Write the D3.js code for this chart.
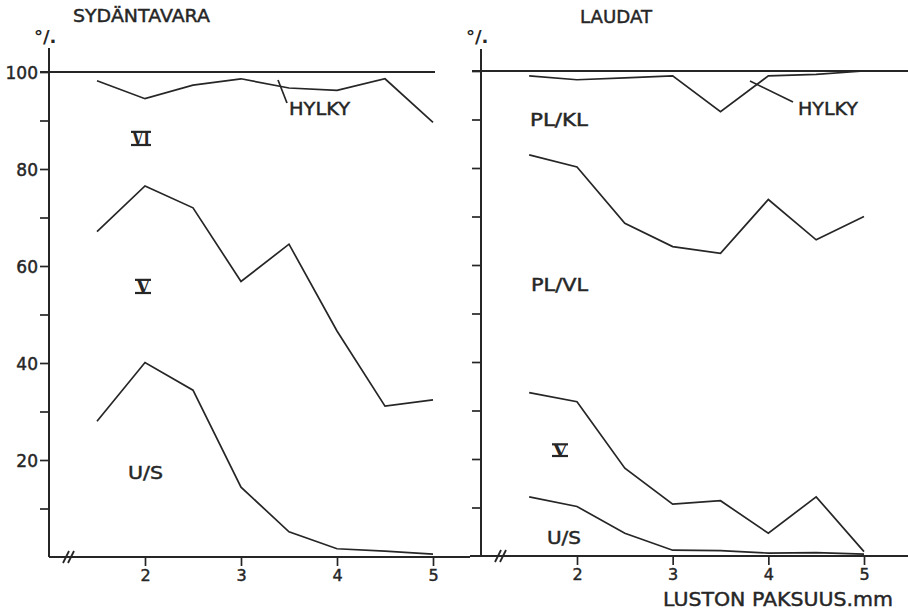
<!DOCTYPE html>
<html>
<head>
<meta charset="utf-8">
<script src="https://cdn.jsdelivr.net/npm/d3@7"></script>
<style>
  body { margin: 0; background: #fff; }
  text { font-family: "DejaVu Sans", sans-serif; fill: #262626; }
</style>
</head>
<body>
<div id="chart"></div>
<script>
// thickness of growth ring (mm) and shares (%)
var thickness = [1.5, 2, 2.5, 3, 3.5, 4, 4.5, 5];
var xTickValues = [2, 3, 4, 5];
var yTickValues = [10, 20, 30, 40, 50, 60, 70, 80, 90, 100];
var yTickLabels = [20, 40, 60, 80, 100];

// SYDÄNTAVARA
var sydHylky = [98.2, 94.5, 97.3, 98.6, 96.7, 96.2, 98.6, 89.6];
var sydV     = [67.1, 76.5, 72.0, 56.8, 64.5, 46.6, 31.1, 32.4];
var sydUS    = [28.0, 40.1, 34.4, 14.4, 5.2, 1.7, 1.2, 0.6];

// LAUDAT
var laudHylky = [99.0, 98.2, 98.6, 99.0, 91.6, 99.0, 99.3, 100];
var laudPLVL  = [82.7, 80.2, 68.6, 63.8, 62.4, 73.5, 65.2, 70.0];
var laudV     = [33.7, 31.8, 18.1, 10.7, 11.4, 4.7, 12.2, 0.9];
var laudUS    = [12.2, 10.2, 4.7, 1.2, 1.1, 0.6, 0.7, 0.4];

var ink = "#262626";
var svg = d3.select("#chart").append("svg")
  .attr("width", 908).attr("height", 613);

// text with a fixed width, slightly thickened like the lettering in the scan
function label(g, s, x, y, size, width) {
  var t = g.append("text").attr("x", x).attr("y", y)
    .style("font-size", size + "px")
    .attr("fill", ink).attr("stroke", ink).attr("stroke-width", 0.45)
    .text(s);
  if (width) t.attr("textLength", width).attr("lengthAdjust", "spacingAndGlyphs");
  return t;
}

function panel(opt) {
  var x = d3.scaleLinear().domain([2, 5]).range(opt.xr);
  var y = d3.scaleLinear().domain([0, 100]).range(opt.yr);
  var g = svg.append("g");

  // y axis (ticks only; the line is drawn by hand so it can run past 100)
  var ya = d3.axisLeft(y).tickValues(yTickValues).tickSize(9)
    .tickFormat(function (d) {
      return opt.labels && yTickLabels.indexOf(d) >= 0 ? d : "";
    });
  var yg = g.append("g").attr("transform", "translate(" + opt.ax + ",0)").call(ya);
  yg.select(".domain").remove();
  yg.selectAll("line").attr("stroke", ink).attr("stroke-width", 1.7);
  yg.selectAll("text").attr("x", -11).attr("dy", "0.38em")
    .style("font-size", "17px").style("font-family", "DejaVu Sans")
    .attr("fill", ink).attr("stroke", ink).attr("stroke-width", 0.45);

  // x axis
  var xa = d3.axisBottom(x).tickValues(xTickValues).tickSize(9).tickPadding(4)
    .tickFormat(d3.format("d"));
  var xg = g.append("g").attr("transform", "translate(0," + y(0) + ")").call(xa);
  xg.select(".domain").remove();
  xg.selectAll("line").attr("stroke", ink).attr("stroke-width", 1.7);
  xg.selectAll("text").style("font-size", "16px").style("font-family", "DejaVu Sans")
    .attr("fill", ink).attr("stroke", ink).attr("stroke-width", 0.45);

  // axis lines
  g.append("line").attr("x1", opt.ax).attr("x2", opt.ax)
    .attr("y1", opt.axTop).attr("y2", y(0))
    .attr("stroke", ink).attr("stroke-width", 2);
  g.append("line").attr("x1", opt.base[0]).attr("x2", opt.base[1])
    .attr("y1", y(0)).attr("y2", y(0))
    .attr("stroke", ink).attr("stroke-width", 2);
  // 100 % line
  g.append("line").attr("x1", opt.top[0]).attr("x2", opt.top[1])
    .attr("y1", y(100)).attr("y2", y(100))
    .attr("stroke", ink).attr("stroke-width", 2);

  // axis break marks
  [0, 5].forEach(function (dx) {
    g.append("line")
      .attr("x1", opt.brk + dx - 3).attr("y1", y(0) + 6)
      .attr("x2", opt.brk + dx + 3).attr("y2", y(0) - 6)
      .attr("stroke", ink).attr("stroke-width", 1.8);
  });

  // series lines
  var line = d3.line()
    .x(function (d, i) { return x(thickness[i]); })
    .y(function (d) { return y(d); });
  opt.series.forEach(function (s) {
    g.append("path").datum(s)
      .attr("d", line)
      .attr("fill", "none")
      .attr("stroke", ink)
      .attr("stroke-width", 1.7)
      .attr("stroke-linejoin", "miter");
  });

  // title and unit
  label(g, opt.title[0], opt.title[1], opt.title[2], 18, opt.title[3]);
  g.append("text").attr("x", opt.ax - 15).attr("y", 43)
    .style("font-size", "18px").style("font-weight", "bold").attr("fill", ink)
    .text("°/.");

  // area labels
  opt.notes.forEach(function (n) {
    label(g, n[0], n[1], n[2], 17, n[3]);
  });

  // roman numerals: serif capitals with bars over and under
  opt.roman.forEach(function (r) {
    var fs = r[4];
    g.append("text").attr("x", r[1]).attr("y", r[2])
      .style("font-size", fs + "px").style("font-family", "DejaVu Serif")
      .style("font-weight", "bold").attr("fill", ink)
      .attr("textLength", r[3]).attr("lengthAdjust", "spacingAndGlyphs")
      .text(r[0]);
    [r[2] - 0.73 * fs, r[2]].forEach(function (yy) {
      g.append("line").attr("x1", r[1] - 1).attr("x2", r[1] + r[3] + 1)
        .attr("y1", yy).attr("y2", yy).attr("stroke", ink).attr("stroke-width", 2.2);
    });
  });

  // HYLKY leader
  g.append("line")
    .attr("x1", opt.leader[0]).attr("y1", opt.leader[1])
    .attr("x2", opt.leader[2]).attr("y2", opt.leader[3])
    .attr("stroke", ink).attr("stroke-width", 1.7);
  return g;
}

panel({
  xr: [145, 433], yr: [557, 72], ax: 49, axTop: 48,
  base: [49, 470], top: [40, 435], brk: 66, labels: true,
  series: [sydHylky, sydV, sydUS],
  title: ["SYDÄNTAVARA", 73, 22, 137],
  notes: [
    ["HYLKY", 289, 115, 61],
    ["U/S", 128, 479, 35]
  ],
  roman: [["VI", 132, 145, 18, 18], ["V", 136, 293, 14, 18]],
  leader: [278, 80, 287, 103]
});

panel({
  xr: [577, 864], yr: [556, 71], ax: 481, axTop: 49,
  base: [470, 908], top: [472, 908], brk: 498, labels: false,
  series: [laudHylky, laudPLVL, laudV, laudUS],
  title: ["LAUDAT", 580, 23, 72],
  notes: [
    ["HYLKY", 798, 115, 60],
    ["PL/KL", 530, 126, 58],
    ["PL/VL", 531, 291, 57],
    ["U/S", 547, 544, 34]
  ],
  roman: [["V", 553, 456, 14, 16]],
  leader: [750, 81, 793, 102]
});

// x axis title
label(svg, "LUSTON PAKSUUS.mm", 663, 606, 20, 230);
</script>
</body>
</html>
